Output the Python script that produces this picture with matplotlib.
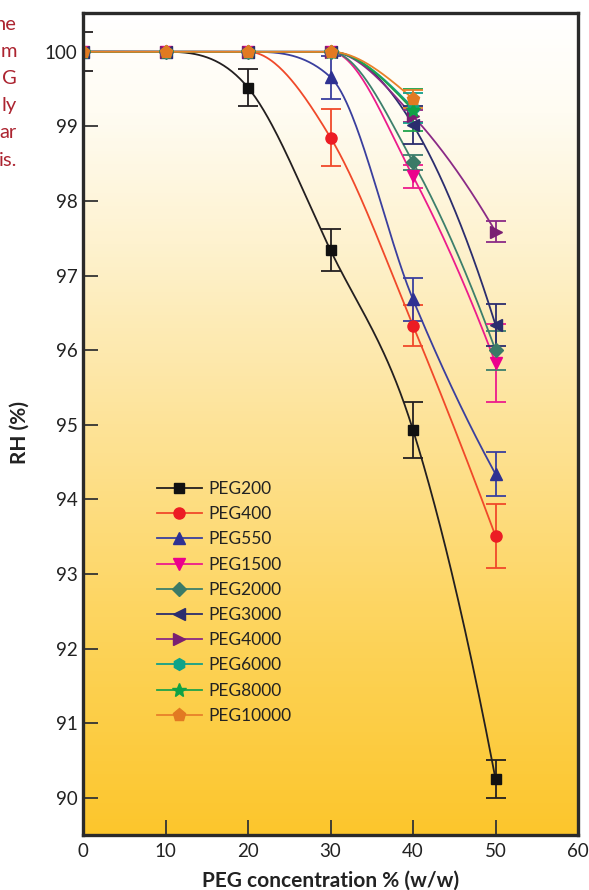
import numpy as np
import matplotlib
matplotlib.use("Agg")
import matplotlib.pyplot as plt
from matplotlib.colors import LinearSegmentedColormap

plt.rcParams['font.family'] = ['Lato', 'DejaVu Sans']

# data
conc = [0, 10, 20, 30, 40, 50]
nan = np.nan

peg200 = [100, 100, 99.52, 97.34, 94.93, 90.25]
peg200_err = [0.26, 0, 0.25, 0.28, 0.38, 0.25]
peg400 = [100, 100, 100, 98.85, 96.33, 93.51]
peg400_err = [0, 0, 0, 0.38, 0.28, 0.43]
peg550 = [100, 100, 100, 99.66, 96.68, 94.34]
peg550_err = [0, 0, 0, 0.29, 0.29, 0.30]
peg1500 = [100, 100, 100, 100, 98.33, 95.83]
peg1500_err = [0, 0, 0, 0, 0.15, 0.52]
peg2000 = [100, 100, 100, 100, 98.52, 96.00]
peg2000_err = [0, 0, 0, 0, 0.10, 0.26]
peg3000 = [100, 100, 100, 100, 99.02, 96.34]
peg3000_err = [0, 0, 0, 0, 0.25, 0.28]
peg4000 = [100, 100, 100, 100, 99.14, 97.59]
peg4000_err = [0, 0, 0, 0, 0.08, 0.14]
peg6000 = [100, 100, 100, 100, 99.25, nan]
peg6000_err = [0, 0, 0, 0, 0.20, nan]
peg8000 = [100, 100, 100, 100, 99.22, nan]
peg8000_err = [0, 0, 0, 0, 0.28, nan]
peg10000 = [100, 100, 100, 100, 99.37, nan]
peg10000_err = [0, 0, 0, 0, 0.12, nan]

names = ["PEG200", "PEG400", "PEG550", "PEG1500", "PEG2000",
         "PEG3000", "PEG4000", "PEG6000", "PEG8000", "PEG10000"]
series = [peg200, peg400, peg550, peg1500, peg2000,
          peg3000, peg4000, peg6000, peg8000, peg10000]
errors = [peg200_err, peg400_err, peg550_err, peg1500_err, peg2000_err,
          peg3000_err, peg4000_err, peg6000_err, peg8000_err, peg10000_err]
markers = ["s", "o", "^", "v", "D", "<", ">", "h", "*", "p"]
line_colors = ["#231f20", "#f0492a", "#3a3f9e", "#ec1c8c", "#3d7f6c",
               "#2b2d6e", "#8a2a86", "#13a08a", "#1fa34a", "#e8812a"]
marker_colors = ["#111111", "#ec1c24", "#2e3192", "#ec008c", "#3b7a67",
                 "#2b2d6e", "#7a1f72", "#0ea389", "#10a246", "#e27a22"]
msizes = [7.5, 8, 8.5, 8.5, 7, 8.5, 8.5, 8.5, 10.5, 9.5]

left_note = ["he", "m", "G", "ly", "ar", "is."]


def smooth_line(x, y, xs):
    # monotone cubic hermite through the points (Fritsch-Carlson limited)
    x = np.asarray(x, float)
    y = np.asarray(y, float)
    h = np.diff(x)
    d = np.diff(y) / h
    n = len(x)
    m = np.zeros(n)
    for k in range(1, n - 1):
        if d[k - 1] * d[k] > 0:
            m[k] = (y[k + 1] - y[k - 1]) / (x[k + 1] - x[k - 1])
    if n > 2:
        v = ((2 * h[-1] + h[-2]) * d[-1] - h[-1] * d[-2]) / (h[-1] + h[-2])
        m[-1] = v if np.sign(v) == np.sign(d[-1]) else 0.0
    for k in range(n - 1):
        if d[k] == 0:
            m[k] = m[k + 1] = 0.0
            continue
        a, b = m[k] / d[k], m[k + 1] / d[k]
        r = a * a + b * b
        if r > 9:
            tau = 3 / np.sqrt(r)
            m[k] = tau * a * d[k]
            m[k + 1] = tau * b * d[k]
    idx = np.clip(np.searchsorted(x, xs) - 1, 0, n - 2)
    t = (xs - x[idx]) / h[idx]
    h00 = 2 * t**3 - 3 * t**2 + 1
    h10 = t**3 - 2 * t**2 + t
    h01 = -2 * t**3 + 3 * t**2
    h11 = t**3 - t**2
    return (h00 * y[idx] + h10 * h[idx] * m[idx]
            + h01 * y[idx + 1] + h11 * h[idx] * m[idx + 1])


fig = plt.figure(figsize=(5.89, 8.90), dpi=100)
ax = fig.add_axes([83 / 589, 1 - 835 / 890, 495 / 589, 822 / 890])

ymin, ymax = 89.50, 100.52
bg = LinearSegmentedColormap.from_list(
    "bg", [(0.0, "#fcc62c"), (0.25, "#fdd45c"), (0.5, "#fde398"),
           (0.72, "#fef2cf"), (0.88, "#fffcf2"), (1.0, "#ffffff")])
ax.imshow(np.linspace(0, 1, 256).reshape(-1, 1), cmap=bg, origin="lower",
          extent=[0, 60, ymin, ymax], aspect="auto", zorder=0)

x = np.array(conc, float)
for i, (name, vals, err) in enumerate(zip(names, series, errors)):
    v = np.array(vals, float)
    e = np.array(err, float)
    ok = ~np.isnan(v)
    xs = np.linspace(x[ok][0], x[ok][-1], 300)
    ax.plot(xs, smooth_line(x[ok], v[ok], xs), color=line_colors[i], lw=1.3,
            zorder=2 + i * 0.1)
    has = ok & (e > 0)
    ax.errorbar(x[has], v[has], yerr=e[has], fmt="none", ecolor=line_colors[i],
                elinewidth=1.3, capsize=7, capthick=1.3, zorder=3 + i * 0.1)
    ax.plot(x[ok], v[ok], ls="none", marker=markers[i], ms=msizes[i],
            color=marker_colors[i], mec=marker_colors[i], zorder=4 + i * 0.1)
    # legend handle
    ax.plot([], [], color=line_colors[i], lw=1.3, marker=markers[i],
            ms=msizes[i], mfc=marker_colors[i], mec=marker_colors[i], label=name)

ax.set_xlim(0, 60)
ax.set_ylim(ymin, ymax)
ax.set_xticks([0, 10, 20, 30, 40, 50, 60])
ax.set_yticks(range(90, 101))
ax.tick_params(axis="both", direction="in", length=11, width=1.3,
               color="#333333", labelsize=13.5, labelcolor="#222222")
ax.tick_params(axis="y", pad=4)
ax.tick_params(axis="x", pad=6)
for s in ax.spines.values():
    s.set_linewidth(2.4)
    s.set_color("#2a2a2a")
    s.set_zorder(10)

fig.text(331 / 589, 1 - 881 / 890, "PEG concentration % (w/w)", ha="center",
         va="center", fontsize=15, fontweight="bold", color="#222222")
fig.text(20 / 589, 1 - 433 / 890, "RH (%)", ha="center", va="center",
         rotation=90, fontsize=15, fontweight="bold", color="#222222")

leg = ax.legend(loc="upper left", bbox_to_anchor=(0.135, 0.439), frameon=False,
                fontsize=12.5, handlelength=2.6, handletextpad=0.35,
                labelspacing=0.53, borderaxespad=0)
for t in leg.get_texts():
    t.set_color("#222222")

for j, s in enumerate(left_note):
    fig.text(17 / 589, 1 - (24 + j * 27.2) / 890, s, ha="right", va="center",
             fontsize=14.5, color="#ac2430", family="Lato")

fig.savefig("out.png", dpi=100)
